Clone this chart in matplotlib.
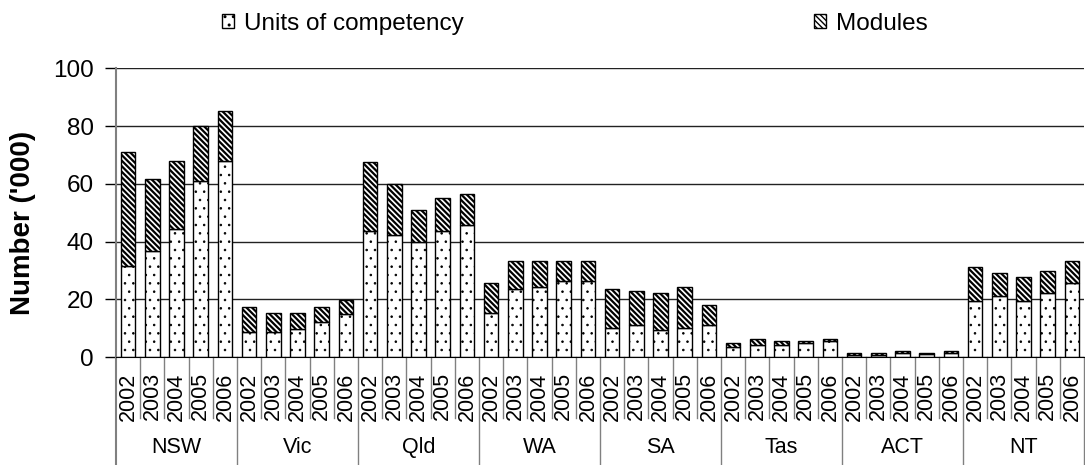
import numpy as np
import matplotlib
matplotlib.use('Agg')
import matplotlib.pyplot as plt
import matplotlib.transforms as mtransforms

plt.rcParams['font.family'] = ['Liberation Sans', 'DejaVu Sans']

# data ('000)
states = ['NSW', 'Vic', 'Qld', 'WA', 'SA', 'Tas', 'ACT', 'NT']
years = ['2002', '2003', '2004', '2005', '2006']
units = [31.7, 36.7, 44.4, 61.0, 68.0,
         8.8, 8.8, 9.6, 12.3, 14.9,
         43.7, 42.4, 39.7, 43.7, 45.9,
         15.1, 23.6, 24.2, 26.4, 26.4,
         10.1, 11.0, 9.5, 10.1, 11.0,
         3.6, 4.3, 4.1, 4.8, 5.7,
         0.8, 0.8, 1.4, 1.2, 1.4,
         19.4, 21.3, 19.4, 22.2, 25.6]
modules = [39.2, 25.1, 23.7, 19.0, 17.4,
           8.5, 6.4, 5.6, 5.0, 5.0,
           23.8, 17.6, 11.1, 11.3, 10.5,
           10.6, 9.8, 9.2, 7.0, 7.0,
           13.5, 11.9, 12.7, 14.2, 7.0,
           1.2, 1.9, 1.4, 0.7, 0.5,
           0.5, 0.5, 0.6, 0.1, 0.6,
           11.9, 7.9, 8.4, 7.7, 7.8]

W, H = 1085, 465
fig = plt.figure(figsize=(W / 100, H / 100), dpi=100)
ax = fig.add_axes([116 / W, (H - 357) / H, 968 / W, 288.5 / H])

x = np.arange(len(units))
b1 = ax.bar(x, units, width=0.6, color='white', edgecolor='black',
            linewidth=1, hatch='..', label='Units of competency', zorder=2)
b2 = ax.bar(x, modules, bottom=units, width=0.6, color='white',
            edgecolor='black', linewidth=1, hatch='\\\\\\\\\\\\',
            label='Modules', zorder=2)
for p in b1:
    p.set_hatch_linewidth(0.6)
for p in b2:
    p.set_hatch_linewidth(1.6)

ax.set_xlim(-0.5, len(units) - 0.5)
ax.set_ylim(0, 100)
ax.set_yticks([0, 20, 40, 60, 80, 100])
ax.tick_params(axis='y', labelsize=17.5, length=8, width=1, pad=8,
               color='black')
ax.yaxis.grid(True, color='#222222', linewidth=1)
ax.set_axisbelow(True)

ax.set_xticks(x)
ax.set_xticklabels(years * len(states), rotation=90, fontsize=15.5)
ax.tick_params(axis='x', length=0, pad=11)

for s in ['top', 'right']:
    ax.spines[s].set_visible(False)
ax.spines['left'].set_color('#808080')
ax.spines['left'].set_linewidth(1.5)
ax.spines['bottom'].set_color('black')

# category separators below the axis
trans = mtransforms.blended_transform_factory(ax.transData, ax.transAxes)
for i in range(len(units) + 1):
    xs = i - 0.5
    if i % 5 == 0:
        ax.plot([xs, xs], [0, -0.42], transform=trans, color='#808080',
                lw=1.5 if i == 0 else 1, clip_on=False)
    else:
        ax.plot([xs, xs], [0, -0.213], transform=trans, color='#808080',
                lw=1, clip_on=False)
for k, st in enumerate(states):
    ax.text(k * 5 + 2, -0.315, st, transform=trans, ha='center',
            va='center', fontsize=15.5)

fig.text(23 / W, 1 - 223 / H, "Number ('000)", rotation=90, ha='center',
         va='center', fontsize=20, fontweight='bold')

leg = fig.legend(handles=[b1, b2], loc='upper left',
                 bbox_to_anchor=(222 / W, 1 - 13 / H), ncol=2, frameon=False,
                 fontsize=17.5, borderaxespad=0, borderpad=0,
                 handlelength=0.5, handleheight=0.5, handletextpad=0.4,
                 columnspacing=14.4)

fig.savefig('out.png', dpi=100)
